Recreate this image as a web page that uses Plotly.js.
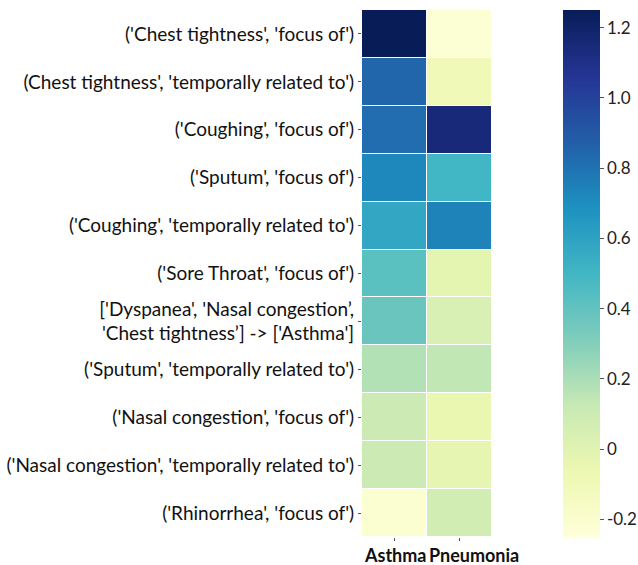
<!DOCTYPE html>
<html><head><meta charset="utf-8">
<script src="https://cdn.plot.ly/plotly-3.0.1.min.js"></script>
<style>body{margin:0;background:#fff}#c{width:638px;height:565px}</style>
</head><body><div id="c"></div>
<script>
const rows = [
  "('Chest tightness', 'focus of')",
  "(Chest tightness', 'temporally related to')",
  "('Coughing', 'focus of')",
  "('Sputum', 'focus of')",
  "('Coughing', 'temporally related to')",
  "('Sore Throat', 'focus of')",
  "['Dyspanea', 'Nasal congestion’,<br>'Chest tightness’] -> ['Asthma']",
  "('Sputum', 'temporally related to')",
  "('Nasal congestion', 'focus of')",
  "('Nasal congestion', 'temporally related to')",
  "('Rhinorrhea', 'focus of')"
];
const cols = ["Asthma", "Pneumonia"];
const asthma = [1.25, 0.85, 0.82, 0.72, 0.58, 0.42, 0.38, 0.18, 0.10, 0.10, -0.21];
const pneumonia = [-0.22, -0.10, 1.15, 0.50, 0.74, -0.02, 0.04, 0.14, -0.05, -0.03, 0.07];
const colTickText = ["<b>Asthma</b>", "<b>Pneumonia</b>"];
const colorbarTicks = [-0.2, 0, 0.2, 0.4, 0.6, 0.8, 1.0, 1.2];
const colorbarTickText = ['-0.2', '0', '0.2', '0.4', '0.6', '0.8', '1.0', '1.2'];

const ylgnbu = [
  [0, '#ffffd9'], [0.125, '#edf8b1'], [0.25, '#c7e9b4'], [0.375, '#7fcdbb'],
  [0.5, '#41b6c4'], [0.625, '#1d91c0'], [0.75, '#225ea8'], [0.875, '#253494'], [1, '#081d58']
];
const z = rows.map((r, i) => [asthma[i], pneumonia[i]]);
const font = "Lato, 'Open Sans', sans-serif";
Plotly.newPlot('c', [{
  type: 'heatmap', x: cols, y: rows, z: z,
  colorscale: ylgnbu, zmin: -0.25, zmax: 1.25,
  xgap: 1, ygap: 1,
  colorbar: {xref: 'container', x: 563/638, xanchor: 'left', xpad: 0,
    thickness: 37, len: 1, lenmode: 'fraction', y: 0.5, yanchor: 'middle', ypad: 0,
    outlinewidth: 0, ticks: 'outside', ticklen: 4, tickcolor: '#555',
    tickvals: colorbarTicks, ticktext: colorbarTickText,
    tickfont: {family: font, size: 17, color: '#222'}}
}], {
  width: 638, height: 565,
  margin: {l: 362, r: 146, t: 10, b: 28, autoexpand: false},
  paper_bgcolor: '#fff', plot_bgcolor: '#fff',
  xaxis: {range: [-0.5, 1.5], tickvals: cols, showticklabels: false, ticks: 'outside', ticklen: 3, tickcolor: '#555',
    showgrid: false, zeroline: false, showline: false, automargin: false},
  yaxis: {autorange: 'reversed', ticks: 'outside', ticklen: 3, tickcolor: '#555', automargin: false,
    tickfont: {family: font, size: 19, color: '#111'}, showgrid: false, zeroline: false, showline: false},
  annotations: cols.map((c, i) => ({
    x: c, xref: 'x', y: 0, yref: 'paper', yanchor: 'top', yshift: -5,
    xanchor: i === 0 ? 'center' : 'left', xshift: i === 0 ? 0 : -33,
    text: colTickText[i], showarrow: false,
    font: {family: font, size: 18, color: '#111'}
  }))
}, {displayModeBar: false});
</script></body></html>
